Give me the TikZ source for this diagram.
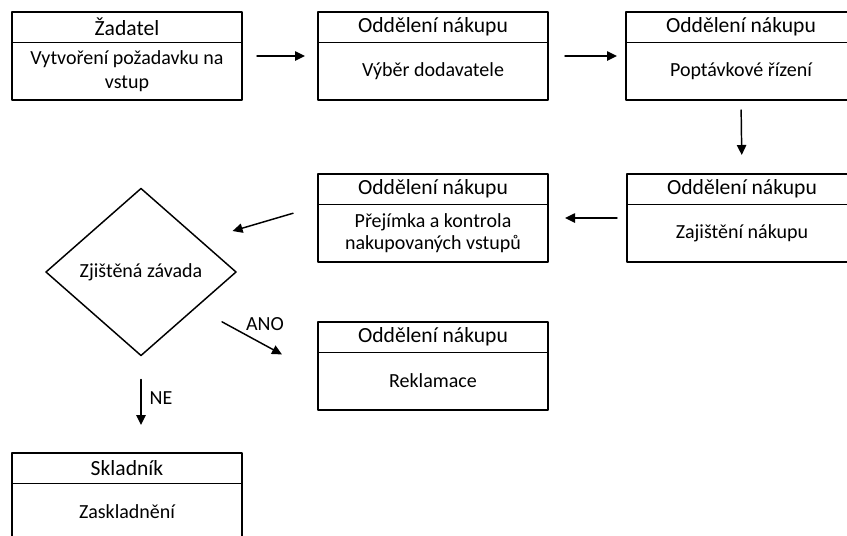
\documentclass[tikz,border=0pt]{standalone}
\usepackage{fontspec}
\setmainfont{Carlito}
\usetikzlibrary{arrows.meta,calc,shapes.geometric}

\begin{document}
\begin{tikzpicture}[x=0.75pt, y=-0.75pt, font=\fontsize{15}{16}\selectfont, line cap=round, line join=round]
    \useasboundingbox (0,0) rectangle (847,536);

    \tikzset{
        procbox/.style={draw=black, line width=1.3pt, minimum width=172.5pt, minimum height=66pt, inner sep=0pt, outer sep=0pt, anchor=north west},
        divider/.style={draw=black, line width=0.6pt},
        headtext/.style={inner sep=0pt, font=\fontsize{16.2}{17}\selectfont},
        bodytext/.style={inner sep=0pt, align=center},
        decision/.style={diamond, draw=black, line width=1.1pt, minimum width=142.5pt, minimum height=125.25pt, inner sep=0pt, outer sep=0pt},
        flow/.style={-{Triangle[length=7.5pt,width=7pt]}, line width=1.1pt},
        answer/.style={inner sep=0pt}
    }

    \newcommand{\drawbox}[4]{%
        \node[procbox] (#1) at (#2) {};
        \draw[divider] ($(#1.north west)+(0,30)$) -- ($(#1.north east)+(0,30)$);
        \node[headtext] (#1h) at ($(#1.north)+(0,15)$) {#3};
        \node[bodytext] (#1b) at ($(#1.north)+(0,59)$) {#4};
    }

    % Process boxes
    \drawbox{b1}{12,12}{Žadatel}{Vytvoření požadavku na\\[2pt]vstup}
    \drawbox{b2}{318,12}{Oddělení nákupu}{Výběr dodavatele}
    \drawbox{b3}{626,12}{Oddělení nákupu}{Poptávkové řízení}
    \drawbox{b4}{318,174}{Oddělení nákupu}{Přejímka a kontrola\\nakupovaných vstupů}
    \drawbox{b5}{627,174}{Oddělení nákupu}{Zajištění nákupu}
    \drawbox{b6}{318,322}{Oddělení nákupu}{Reklamace}
    \drawbox{b7}{12,453}{Skladník}{Zaskladnění}

    % Decision
    \node[decision] (d) at (141,272) {Zjištěná závada};

    % Flow arrows
    \draw[flow, shorten <=11.25pt, shorten >=9.75pt] (b1.east) -- (b2.west);
    \draw[flow, shorten <=12.75pt, shorten >=6.75pt] (b2.east) -- (b3.west);
    \draw[flow, shorten <=7.5pt, shorten >=14.25pt] (b3.south) -- (b5.north);
    \draw[flow, shorten <=7.5pt, shorten >=12.75pt] (b5.west) -- (b4.east);
    \draw[flow, shorten <=19.5pt, shorten >=25.3pt] (b4.174) -- (d.28);
    \draw[flow, shorten <=22.5pt, shorten >=30.75pt] (d.-33) -- (b6.184);
    \draw[flow, shorten <=18pt, shorten >=21pt] (d.south) -- (d.south |- b7.north);

    % Answers
    \node[answer] (lano) at (265,324) {ANO};
    \node[answer] (lne) at (161,398) {NE};
\end{tikzpicture}
\end{document}
